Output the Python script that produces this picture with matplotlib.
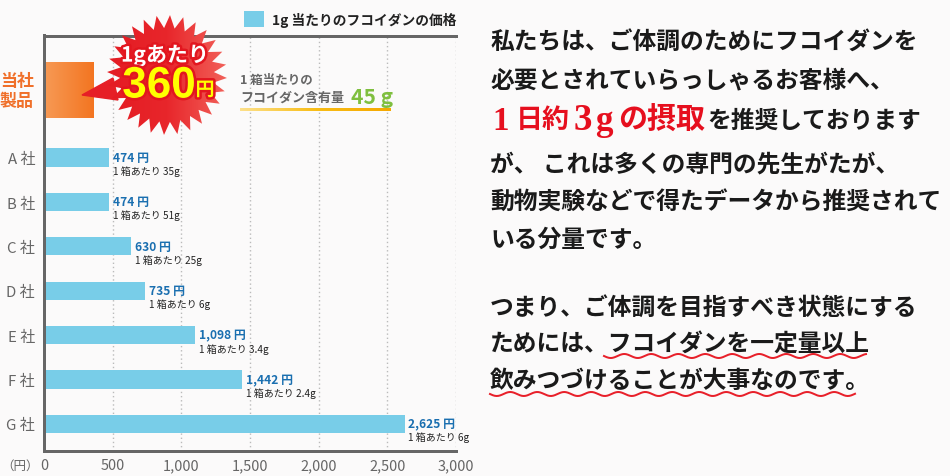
import numpy as np
import matplotlib
matplotlib.use("Agg")
from matplotlib import pyplot as plt
from matplotlib import patheffects as pe
from matplotlib.colors import LinearSegmentedColormap
from matplotlib.patches import Polygon

plt.rcParams["font.family"] = ["Noto Sans CJK JP", "DejaVu Sans"]

companies = ["A 社", "B 社", "C 社", "D 社", "E 社", "F 社", "G 社"]
prices = [474, 474, 630, 735, 1098, 1442, 2625]
box_grams = ["35", "51", "25", "6", "3.4", "2.4", "6"]
own_price = 360
x_ticks = [0, 500, 1000, 1500, 2000, 2500, 3000]
legend_label = "1g 当たりのフコイダンの価格"

W, H = 950, 477
BG = "#fbfafa"
GREY = "#666666"


def px(size):
    # pixel size -> points at dpi 100
    return size * 0.72


fig = plt.figure(figsize=(W / 100, H / 100), dpi=100, facecolor=BG)

# chart axes, box placed by pixels of the reference
left, right, top, bottom = 44, 456, 36.5, 452
ax = fig.add_axes([left / W, 1 - bottom / H, (right - left) / W, (bottom - top) / H])
ax.set_facecolor(BG)
y_limits = (7.61, -1.75)

rows = np.arange(1, len(prices) + 1)
ax.barh(rows, prices, height=0.41, color="#78cde8", zorder=2, label=legend_label)

# own product bar with orange gradient
own_bar = ax.barh([-0.52], [own_price], height=1.26, color="none", zorder=2)[0]
orange = LinearSegmentedColormap.from_list("orange", ["#f79a55", "#f37521"])
im = ax.imshow(np.linspace(0, 1, 64).reshape(1, -1), cmap=orange, aspect="auto", zorder=2,
               extent=[0, own_price, -1.15, 0.11])
im.set_clip_path(own_bar)
ax.set_xlim(0, 3000)
ax.set_ylim(*y_limits)

for y, price, grams in zip(rows, prices, box_grams):
    ax.annotate("{:,} 円".format(price), (price, y), xytext=(px(4), 0), textcoords="offset points",
                va="center", ha="left", fontsize=px(12), fontweight="bold", color="#1a6fb0",
                annotation_clip=False, zorder=4)
    ax.annotate("1 箱あたり {}g".format(grams), (price, y), xytext=(px(4), px(-13)),
                textcoords="offset points", va="center", ha="left", fontsize=px(10), color="#222222",
                annotation_clip=False, zorder=4)

ax.set_yticks(rows)
ax.set_yticklabels(companies, fontsize=px(15), color=GREY)
ax.set_xticks(x_ticks)
ax.set_xticklabels(["{:,}".format(v) for v in x_ticks], fontsize=px(14.5), color=GREY)
ax.tick_params(length=0)
ax.tick_params(axis="y", pad=px(9))
ax.tick_params(axis="x", pad=px(7))
ax.grid(axis="x", linestyle=(0, (1, 2)), color="#bbbbbb", linewidth=1, zorder=1)
ax.set_axisbelow(True)
ax.spines["right"].set_visible(False)
for side in ["top", "left", "bottom"]:
    ax.spines[side].set_color(GREY)
    ax.spines[side].set_linewidth(px(3))

ax.legend(loc="center right", bbox_to_anchor=(right / W, 1 - 20 / H), bbox_transform=fig.transFigure,
          frameon=False, handlelength=1.45, handleheight=1.35, handletextpad=0.55,
          borderpad=0, borderaxespad=0, labelcolor="#222222", prop={"size": px(13.7), "weight": "bold"})

# overlay in reference pixels for the callouts and the copy
ov = fig.add_axes([0, 0, 1, 1], zorder=5)
ov.axis("off")

ov.text(17, 91, "当社\n製品", ha="center", va="center", fontsize=px(17), fontweight="bold",
        color="#f0702a", linespacing=1.15)
ov.text(1, 466, "（円）", ha="left", va="center", fontsize=px(12.5), color=GREY)

# starburst
cx, cy = 167, 76
n_spikes = 28
angles = np.linspace(0, 2 * np.pi, n_spikes * 2, endpoint=False) + 0.05
radii = np.where(np.arange(n_spikes * 2) % 2 == 0, 60, 47)
star_xy = np.column_stack([cx + radii * np.cos(angles), cy + radii * np.sin(angles)])
red = LinearSegmentedColormap.from_list("red", ["#e41b23", "#e8262b", "#f2625a"])
tail = Polygon([(113, 79), (82, 96), (118, 101)], closed=True, color="#e61f26", zorder=2)
ov.add_patch(tail)
star = Polygon(star_xy, closed=True, facecolor="none", edgecolor="none", zorder=2)
ov.add_patch(star)
star_im = ov.imshow(np.linspace(0, 1, 64).reshape(1, -1), cmap=red, aspect="auto", zorder=2,
                    extent=[cx - 62, cx + 62, cy + 62, cy - 62])
star_im.set_clip_path(star)

red_edge = [pe.withStroke(linewidth=px(5), foreground="#e2161f")]
ov.text(165, 56, "1gあたり", ha="center", va="center", fontsize=px(21), fontweight="bold",
        color="white", path_effects=red_edge, zorder=3)
ov.text(159, 87, "360", ha="center", va="center", fontsize=px(44), fontweight="bold",
        family=["Liberation Sans"], color="#ffff00", path_effects=red_edge, zorder=3)
ov.text(205, 91, "円", ha="center", va="center", fontsize=px(19), fontweight="bold",
        color="#ffff00", path_effects=red_edge, zorder=3)

# content callout
ov.text(240, 80, "1 箱当たりの", ha="left", va="center", fontsize=px(12.5), fontweight="bold", color=GREY)
ov.text(240, 98, "フコイダン含有量", ha="left", va="center", fontsize=px(13), fontweight="bold", color=GREY)
ov.text(351, 97, "45 g", ha="left", va="center", fontsize=px(21), fontweight="bold", color="#7fbf3f")
yellow = LinearSegmentedColormap.from_list("yellow", ["#fde08a", "#f8bd17", "#f5a800"])
ov.imshow(np.linspace(0, 1, 64).reshape(1, -1), cmap=yellow, aspect="auto",
          extent=[240, 391, 112, 109], zorder=2)

# copy on the right
body = dict(ha="left", va="center", fontsize=px(23.8), fontweight="bold", color="#1a1a1a")
ov.text(490, 43, "私たちは、ご体調のためにフコイダンを", **body)
ov.text(490, 80, "必要とされていらっしゃるお客様へ、", **body)

# red headline is set in pieces, digits are wider in the reference
for x0, piece, size in [(492, "1", 33), (516, "日約", 27), (574, "3", 37), (595, "g", 35), (618, "の摂取", 29)]:
    ov.text(x0, 121, piece, ha="left", va="center", fontsize=px(size), fontweight="bold",
            color="#e60f1e", family=["Liberation Serif", "Noto Sans CJK JP"])
ov.text(707, 121, "を推奨しております", **body)
ov.text(490, 165, "が、 これは多くの専門の先生がたが、", **body)
ov.text(490, 203, "動物実験などで得たデータから推奨されて", **body)
ov.text(490, 240, "いる分量です。", **body)
ov.text(490, 308, "つまり、ご体調を目指すべき状態にする", **body)
ov.text(490, 345, "ためには、フコイダンを一定量以上", **body)
ov.text(490, 381, "飲みつづけることが大事なのです。", **body)

# wavy underlines
for x0, x1, y0 in [(604, 866, 357), (490, 855, 395)]:
    wave_x = np.linspace(x0, x1, 400)
    ov.plot(wave_x, y0 + 2 * np.sin(2 * np.pi * (wave_x - x0) / 27), color="#e8202a", linewidth=px(2))

ov.set_xlim(0, W)
ov.set_ylim(H, 0)

fig.savefig("out.png", dpi=100, facecolor=BG)
